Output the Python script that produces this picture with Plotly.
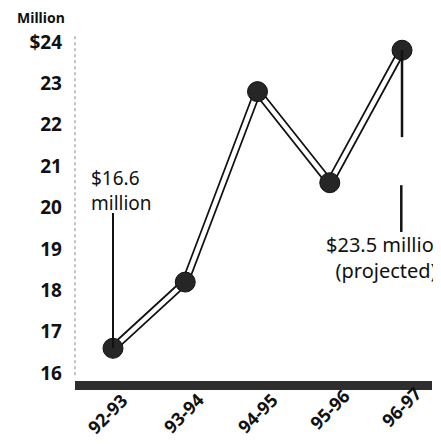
import plotly.graph_objects as go

seasons = ["92-93", "93-94", "94-95", "95-96", "96-97"]
revenue = [16.6, 18.2, 22.8, 20.6, 23.8]
ytick_vals = [16, 17, 18, 19, 20, 21, 22, 23, 24]
ytick_text = ["16", "17", "18", "19", "20", "21", "22", "23", "$24"]

xi = list(range(len(seasons)))

fig = go.Figure()
# outer black of double line
fig.add_trace(go.Scatter(x=xi, y=revenue, mode="lines",
                         line=dict(color="#111111", width=8), hoverinfo="skip"))
# white inner channel
fig.add_trace(go.Scatter(x=xi, y=revenue, mode="lines",
                         line=dict(color="white", width=4.5), hoverinfo="skip"))
# markers
fig.add_trace(go.Scatter(x=xi, y=revenue, mode="markers",
                         marker=dict(size=20, color="#262626",
                                     line=dict(color="#111111", width=1)),
                         hoverinfo="skip"))

font_main = "Noto Sans"

# leader lines
fig.add_shape(type="line", xref="x", yref="y", x0=0, x1=0, y0=revenue[0], y1=19.87,
              line=dict(color="#111111", width=2))
fig.add_shape(type="line", xref="x", yref="y", x0=4, x1=4, y0=revenue[4], y1=21.70,
              line=dict(color="#111111", width=2.5))
fig.add_shape(type="line", xref="x", yref="y", x0=3.99, x1=3.99, y0=20.54, y1=19.41,
              line=dict(color="#111111", width=2.5))
# dotted y axis
fig.add_shape(type="line", xref="paper", yref="y", x0=0, x1=0, y0=15.95, y1=24.2,
              line=dict(color="#888888", width=1, dash="dot"))

fig.add_annotation(x=-0.33, y=20.40, xref="x", yref="y", xanchor="left", yanchor="middle",
                   text="$16.6<br>million", showarrow=False, align="left",
                   font=dict(family=font_main, size=19, color="#111111"))
fig.add_annotation(x=3.78, y=18.80, xref="x", yref="y", xanchor="center", yanchor="middle",
                   text="$23.5 million<br>(projected)", showarrow=False, align="center",
                   font=dict(family=font_main, size=20, color="#111111"))
fig.add_annotation(x=-0.168, y=1.008, xref="paper", yref="paper", xanchor="left",
                   yanchor="middle", text="<b>Million</b>", showarrow=False,
                   font=dict(family=font_main, size=14, color="#111111"))

# rotated season labels under each point
label_dx = [-6, -2, 0, 0, -1]
label_dy = [-33, -32, -32, -28, -26]
for i, s in enumerate(seasons):
    fig.add_annotation(x=xi[i], y=0, xref="x", yref="paper", xanchor="center",
                       yanchor="middle", text=f"<b>{s}</b>", showarrow=False,
                       textangle=-45, xshift=label_dx[i], yshift=label_dy[i],
                       font=dict(family=font_main, size=18, color="#111111"))

fig.update_layout(
    width=433, height=436,
    margin=dict(l=67, r=9, t=12, b=63, autoexpand=False),
    paper_bgcolor="white", plot_bgcolor="white",
    showlegend=False,
    xaxis=dict(range=[-0.526, 4.415], tickmode="array", tickvals=xi,
               showticklabels=False,
               showgrid=False, zeroline=False, showline=True, automargin=False,
               linecolor="#2e2e2e", linewidth=9, ticks=""),
    yaxis=dict(range=[15.81, 24.53], tickmode="array", tickvals=ytick_vals,
               ticktext=[f"<b>{t}</b>" for t in ytick_text], automargin=False,
               showgrid=False, zeroline=False, showline=False, ticks="",
               ticklabelstandoff=12,
               tickfont=dict(family=font_main, size=19, color="#111111")),
)

fig.write_html("out.html")
